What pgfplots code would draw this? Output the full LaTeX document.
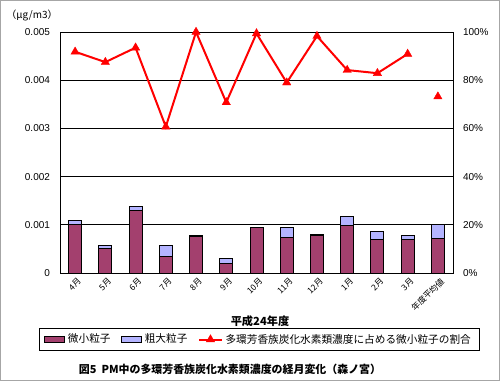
\documentclass[border=0pt]{standalone}
\usepackage{pgfplots}
\pgfplotsset{compat=1.18}
\usepackage{fontspec}
\setmainfont{Liberation Sans}
\newfontfamily\jp{Noto Sans CJK JP}
\definecolor{fineC}{HTML}{A3406E}
\definecolor{coarseC}{HTML}{B4B4FF}
\definecolor{lineC}{HTML}{FF0000}
\begin{document}
\begin{tikzpicture}
\useasboundingbox (0,0) rectangle (375pt,285.75pt);
\draw[gray!70, line width=1pt] (0.5pt,0.5pt) rectangle (374.5pt,285.25pt);
\begin{axis}[
  at={(45pt,81pt)}, anchor=south west, scale only axis,
  width=294.75pt, height=180.75pt,
  xmin=-0.5, xmax=12.5, ymin=0, ymax=0.005,
  ybar stacked, bar width=9.75pt,
  xtick={0,...,12},
  xticklabels={4月,5月,6月,7月,8月,9月,10月,11月,12月,1月,2月,3月,年度平均値},
  x tick label style={font=\jp\fontsize{6.3}{7}\selectfont, rotate=45, anchor=north east, inner sep=1pt, yshift=-2pt},
  major x tick style={draw=none},
  extra x ticks={-0.5,0.5,1.5,2.5,3.5,4.5,5.5,6.5,7.5,8.5,9.5,10.5,11.5,12.5},
  extra x tick labels={},
  extra x tick style={major tick length=3pt, tick align=outside, grid=none, tick style={draw=black, line width=0.4pt}},
  ytick={0,0.001,0.002,0.003,0.004,0.005},
  yticklabels={0,0.001,0.002,0.003,0.004,0.005},
  scaled y ticks=false,
  y tick label style={font=\fontsize{7.5}{8}\selectfont, xshift=-4pt},
  major y tick style={draw=none},
  ymajorgrids, grid style={black, line width=0.5pt},
  axis line style={black, line width=0.6pt},
]
\addplot[fill=fineC, draw=black, line width=0.7pt] coordinates {
 (0,0.00100) (1,0.00051) (2,0.00129) (3,0.00035) (4,0.00076) (5,0.00020) (6,0.00094)
 (7,0.00074) (8,0.00078) (9,0.00099) (10,0.00070) (11,0.00070) (12,0.00072)};
\addplot[fill=coarseC, draw=black, line width=0.7pt] coordinates {
 (0,0.00008) (1,0.00007) (2,0.00009) (3,0.00023) (4,0.00001) (5,0.00010) (6,0.00001)
 (7,0.00021) (8,0.00002) (9,0.00019) (10,0.00016) (11,0.00007) (12,0.00028)};
\end{axis}
\begin{axis}[
  at={(45pt,81pt)}, anchor=south west, scale only axis,
  width=294.75pt, height=180.75pt,
  xmin=-0.5, xmax=12.5, ymin=0, ymax=100,
  axis x line=none, axis y line*=right,
  ytick={0,20,40,60,80,100},
  yticklabels={0\%,20\%,40\%,60\%,80\%,100\%},
  y tick label style={font=\fontsize{7.5}{8}\selectfont, xshift=4pt},
  major y tick style={draw=none},
  axis line style={black, line width=0.6pt},
  clip=false,
  legend columns=3,
  legend style={at={(0.5064,-0.276)}, anchor=center, draw=black, line width=0.5pt,
    font=\jp\fontsize{8}{9}\selectfont, inner ysep=2pt, inner xsep=4pt,
    /tikz/every even column/.append style={column sep=6pt}},
  legend cell align=left,
]
\addlegendimage{legend image code/.code={\draw[fill=fineC, draw=black, line width=0.6pt] (0pt,-2pt) rectangle (15pt,2pt);}}
\addlegendentry{微小粒子}
\addlegendimage{legend image code/.code={\draw[fill=coarseC, draw=black, line width=0.6pt] (0pt,-2pt) rectangle (15pt,2pt);}}
\addlegendentry{粗大粒子}
\addplot[lineC, line width=1.5pt, mark=triangle*, mark size=3.6pt, mark options={solid, fill=lineC, draw=lineC, line width=0.3pt}] coordinates {
 (0,91.8) (1,87.5) (2,93.5) (3,60.7) (4,100) (5,70.8) (6,99.4) (7,79.0) (8,98.3) (9,84.2) (10,82.9) (11,90.9)};
\addlegendentry{多環芳香族炭化水素類濃度に占める微小粒子の割合}
\addplot[only marks, mark=triangle*, mark size=3.6pt, mark options={fill=lineC, draw=lineC, line width=0.3pt}, forget plot] coordinates {(12,73.2)};
\end{axis}
\node[font=\jp\fontsize{7.5}{8}\selectfont] at (24pt,274.5pt) {（μg/m3）};
\node[font=\jp\bfseries\fontsize{8.4}{9}\selectfont] at (195pt,45pt) {平成24年度};
\node[font=\jp\bfseries\fontsize{8.2}{9}\selectfont] at (172.5pt,9pt) {図5\ \ PM中の多環芳香族炭化水素類濃度の経月変化（森ノ宮）};
\end{tikzpicture}
\end{document}
